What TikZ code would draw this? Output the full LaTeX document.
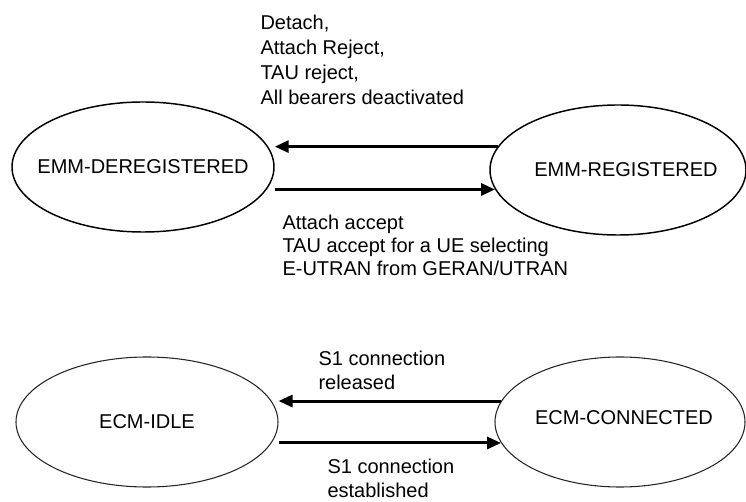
\documentclass[tikz,border=0pt]{standalone}
\usepackage{fontspec}
\setmainfont{Liberation Sans}
\usetikzlibrary{shapes.geometric,arrows.meta}

\tikzset{every picture/.style={line width=0.75pt}}

\begin{document}
\begin{tikzpicture}[x=0.75pt,y=0.75pt,yscale=-1,xscale=1,
	emm/.style={ellipse,draw,line width=1.1pt,inner sep=0pt,minimum height=97.5pt},
	ecm/.style={ellipse,draw=black!85,line width=0.8pt,inner sep=0pt,minimum height=97.5pt},
	statename/.style={font=\fontsize{15}{18}\selectfont,inner sep=0pt},
	trans/.style={line width=2.25pt,-{Triangle[length=10.5pt,width=9pt]}},
	note/.style={anchor=north west,inner sep=0pt,align=left}]
		\path[use as bounding box] (0,0) rectangle (746,502);

		%Shape: Ellipse [id:emm-deregistered]
		\draw (143,167) node[emm,minimum width=196.5pt,label={[statename]center:EMM-DEREGISTERED}] (dereg) {};
		%Shape: Ellipse [id:emm-registered]
		\draw (618,170) node[emm,minimum width=192pt,label={[statename,xshift=6pt]center:EMM-REGISTERED}] (reg) {};
		%Shape: Ellipse [id:ecm-idle]
		\draw (147,422) node[ecm,minimum width=196.5pt,label={[statename]center:ECM-IDLE}] (idle) {};
		%Shape: Ellipse [id:ecm-connected]
		\draw (620,422) node[ecm,minimum width=187.5pt,label={[statename,xshift=3pt,yshift=3pt]center:ECM-CONNECTED}] (conn) {};

		%Straight Lines [id:emm-arrows]
		\draw[trans] (reg.169) -- (reg.169 -| dereg.east);
		\draw[trans] (dereg.east |- reg.189) -- (reg.189);
		%Straight Lines [id:ecm-arrows]
		\draw[trans] (conn.170) -- (conn.170 -| idle.east);
		\draw[trans] (idle.east |- conn.190) -- (conn.190);

		% Text Node
		\draw (260,15) node[note,font=\fontsize{15}{18.75}\selectfont] (lose) {Detach,\\Attach Reject,\\TAU reject,\\All bearers deactivated};
		% Text Node
		\draw (282,215) node[note,font=\fontsize{15}{17}\selectfont] (gain) {Attach accept\\TAU accept for a UE selecting\\E-UTRAN from GERAN/UTRAN};
		% Text Node
		\draw (318,351) node[note,font=\fontsize{15}{18}\selectfont] (release) {S1 connection\\released};
		% Text Node
		\draw (327,459) node[note,font=\fontsize{15}{18}\selectfont] (establish) {S1 connection\\established};

\end{tikzpicture}
\end{document}
